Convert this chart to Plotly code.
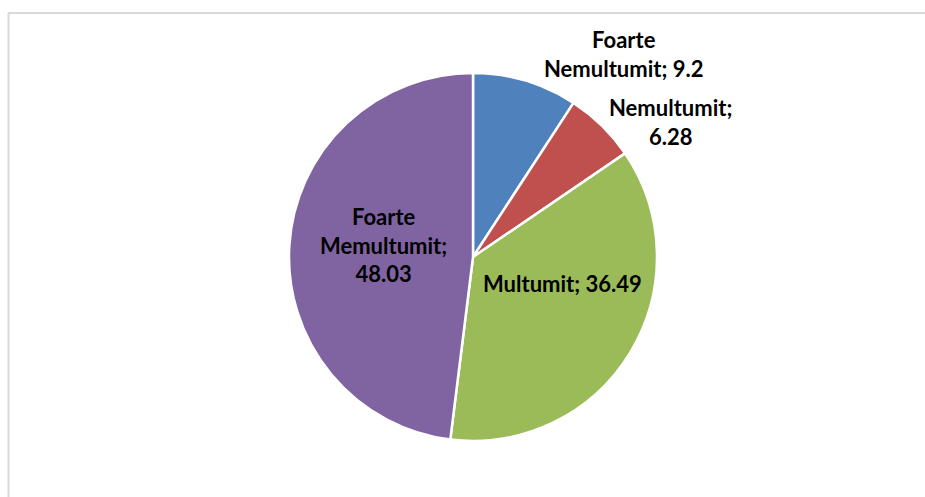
import plotly.graph_objects as go

categories = ["Foarte Nemultumit", "Nemultumit", "Multumit", "Foarte Memultumit"]
values = [9.2, 6.28, 36.49, 48.03]
colors = ["#4F81BD", "#C0504D", "#9BBB59", "#8064A2"]

W, H = 925, 497
# label text layout (line breaks) and target pixel positions (style only)
label_lines = [["Foarte", "Nemultumit; {v}"], ["Nemultumit;", "{v}"],
               ["Multumit; {v}"], ["Foarte", "Memultumit;", "{v}"]]
label_pos = [(624, 54), (670, 122), (562, 283), (383, 245)]

cx, cy, R = 473, 257, 184


def px(x):
    return x / W


def py(y):
    return 1 - y / H


fig = go.Figure(go.Pie(
    labels=categories, values=values, sort=False, direction="clockwise",
    rotation=0, textinfo="none", hoverinfo="label+value",
    marker=dict(colors=colors, line=dict(color="white", width=2.5)),
    domain=dict(x=[(cx - R) / W, (cx + R) / W], y=[(H - cy - R) / H, (H - cy + R) / H]),
    showlegend=False,
))

for cat, v, lines, (lx, ly) in zip(categories, values, label_lines, label_pos):
    txt = "<br>".join(l.format(v=v) for l in lines)
    fig.add_annotation(x=px(lx), y=py(ly), xref="paper", yref="paper",
                       text="<b>" + txt + "</b>", showarrow=False,
                       font=dict(family="Lato", size=22, color="black"),
                       xanchor="center", yanchor="middle", align="center")

# chart area border (light gray), top and left edges only
fig.add_shape(type="line", xref="paper", yref="paper", x0=px(8), x1=1.01, y0=py(13), y1=py(13),
              line=dict(color="#D9D9D9", width=2))
fig.add_shape(type="line", xref="paper", yref="paper", x0=px(8.5), x1=px(8.5), y0=py(13), y1=-0.05,
              line=dict(color="#D9D9D9", width=2))

fig.update_layout(width=W, height=H, margin=dict(l=0, r=0, t=0, b=0),
                  paper_bgcolor="white", plot_bgcolor="white")
fig.write_html("out.html", config={"displayModeBar": False},
               post_script="document.body.style.margin='0';document.body.style.overflow='hidden';")
